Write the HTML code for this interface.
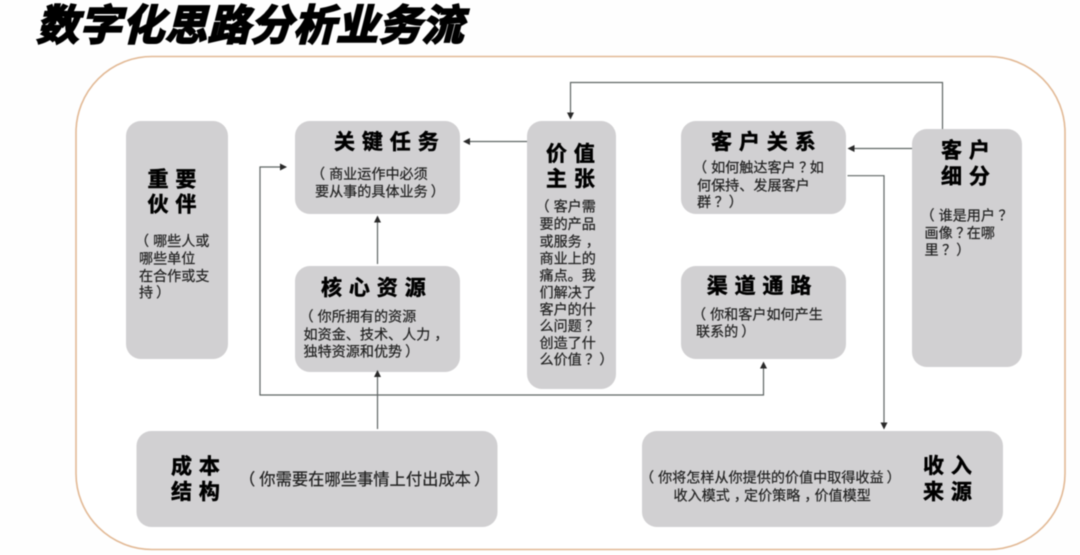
<!DOCTYPE html>
<html lang="zh">
<head>
<meta charset="utf-8">
<style>
html,body{margin:0;padding:0;background:#fff;width:1080px;height:555px;overflow:hidden}
svg{display:block;filter:blur(.4px)}
text{font-family:"Liberation Sans","Noto Sans CJK SC",sans-serif;dominant-baseline:central;white-space:pre}
.h{font-size:21px;font-weight:700;letter-spacing:6.9px;fill:#000;stroke:#000;stroke-width:.5px}
.s{font-size:14.1px;fill:#222;stroke:#222;stroke-width:.2px}
.b{fill:#d1d0d2}
.l{fill:none;stroke:#5f6664;stroke-width:1.2}
.a{fill:#2a2a2a}
</style>
</head>
<body>
<svg width="1080" height="555" viewBox="0 0 1080 555" xmlns="http://www.w3.org/2000/svg">
<rect width="1080" height="555" fill="#fefefe"/>
<text transform="translate(34,26) skewX(-14)" x="6" style="font-size:42px;font-weight:700;letter-spacing:.8px;fill:#000;stroke:#000;stroke-width:2px">数字化思路分析业务流</text>
<rect x="76" y="56.500" width="989" height="493" rx="76" ry="76" fill="#fff" stroke="#e2b995" stroke-width="1.6"/>

<rect class="b" x="126" y="121" width="102" height="238" rx="15"/>
<rect class="b" x="295" y="121" width="165" height="93" rx="15"/>
<rect class="b" x="295" y="266" width="165" height="106" rx="15"/>
<rect class="b" x="527" y="121" width="89" height="268" rx="15"/>
<rect class="b" x="681" y="121" width="165" height="93" rx="15"/>
<rect class="b" x="681" y="266" width="165" height="93" rx="15"/>
<rect class="b" x="912" y="129" width="110" height="238" rx="15"/>
<rect class="b" x="136.500" y="431" width="361" height="96" rx="15"/>
<rect class="b" x="642" y="431" width="361" height="96" rx="15"/>

<path class="l" d="M527 141.500H468"/><path class="a" d="M463 141.500l7-3.500v7z"/>
<path class="l" d="M377.500 264V221"/><path class="a" d="M377.500 215.500l-3.500 7h7z"/>
<path class="l" d="M377.500 429V376"/><path class="a" d="M377.500 370l-3.500 7h7z"/>
<path class="l" d="M286 167H260V395H763.500V367"/><path class="a" d="M287 167l-7-3.500v7z"/><path class="a" d="M763.500 361.500l-3.500 7h7z"/>
<path class="l" d="M942.500 129V82.500H570.500V114"/><path class="a" d="M570.500 119.500l-3.500-7h7z"/>
<path class="l" d="M912 148.500H853"/><path class="a" d="M847.500 148.500l7-3.500v7z"/>
<path class="l" d="M847.500 175.700H884V424"/><path class="a" d="M884 429.500l-3.500-7h7z"/>

<g transform="translate(0,1)">
<text class="h" x="334" y="141.700">关键任务</text>
<text class="s" x="315" y="173"><tspan dx="-4">（</tspan><tspan dx="4">商业运作中必须</tspan></text>
<text class="s" x="315" y="190.500">要从事的具体业务<tspan dx="3">）</tspan></text>

<text class="h" x="147.500" y="179">重要</text>
<text class="h" x="147.500" y="204">伙伴</text>
<text class="s" x="139" y="240"><tspan dx="-4">（</tspan><tspan dx="4">哪些人或</tspan></text>
<text class="s" x="139" y="257.500">哪些单位</text>
<text class="s" x="139" y="275">在合作或支</text>
<text class="s" x="139" y="291.500">持<tspan dx="3">）</tspan></text>

<text class="h" x="321" y="287.700">核心资源</text>
<text class="s" x="303.500" y="315.700"><tspan dx="-4">（</tspan><tspan dx="4">你所拥有的资源</tspan></text>
<text class="s" x="303.500" y="333.500">如资金、技术、人力<tspan dx="4">，</tspan></text>
<text class="s" x="303.500" y="350.500">独特资源和优势<tspan dx="3">）</tspan></text>

<text class="h" x="546" y="153.300">价值</text>
<text class="h" x="546" y="178.300">主张</text>
<text class="s" x="539.500" y="205.700"><tspan dx="-4">（</tspan><tspan dx="4">客户需</tspan></text>
<text class="s" x="539.500" y="223">要的产品</text>
<text class="s" x="539.500" y="240.300">或服务<tspan dx="4">，</tspan></text>
<text class="s" x="539.500" y="257.300">商业上的</text>
<text class="s" x="539.500" y="274.300">痛点。我</text>
<text class="s" x="539.500" y="291.300">们解决了</text>
<text class="s" x="539.500" y="308.300">客户的什</text>
<text class="s" x="539.500" y="325">么问题<tspan dx="3.500">？</tspan></text>
<text class="s" x="539.500" y="342">创造了什</text>
<text class="s" x="539.500" y="358.500">么价值<tspan dx="3.500">？</tspan><tspan dx="0">）</tspan></text>

<text class="h" x="711" y="141.700">客户关系</text>
<text class="s" x="697" y="166.700"><tspan dx="-4">（</tspan><tspan dx="4">如何触达客户</tspan><tspan dx="3.500">？</tspan><tspan dx="-3.500">如</tspan></text>
<text class="s" x="697" y="184.300">何保持、发展客户</text>
<text class="s" x="697" y="201">群<tspan dx="3.500">？</tspan><tspan dx="0">）</tspan></text>

<text class="h" x="706.700" y="285.700">渠道通路</text>
<text class="s" x="696" y="313.300"><tspan dx="-4">（</tspan><tspan dx="4">你和客户如何产生</tspan></text>
<text class="s" x="696" y="330.700">联系的<tspan dx="3">）</tspan></text>

<text class="h" x="941" y="150">客户</text>
<text class="h" x="941" y="176">细分</text>
<text class="s" x="924.500" y="214.300"><tspan dx="-4">（</tspan><tspan dx="4">谁是用户</tspan><tspan dx="3.500">？</tspan></text>
<text class="s" x="924.500" y="232">画像<tspan dx="3.500">？</tspan><tspan dx="-3.500">在哪</tspan></text>
<text class="s" x="924.500" y="249">里<tspan dx="3.500">？</tspan><tspan dx="0">）</tspan></text>

<text class="h" x="171" y="466">成本</text>
<text class="h" x="171" y="491.700">结构</text>
<text class="s" x="243" y="479" style="font-size:16.300px"><tspan dx="-4">（</tspan><tspan dx="4">你需要在哪些事情上付出成本</tspan><tspan dx="3">）</tspan></text>

<text class="h" x="923" y="465.700">收入</text>
<text class="h" x="923" y="491.700">来源</text>
<text class="s" x="644" y="476.700"><tspan dx="-4">（</tspan><tspan dx="4">你将怎样从你提供的价值中取得收益</tspan><tspan dx="3">）</tspan></text>
<text class="s" x="673.500" y="494.300">收入模式<tspan dx="4">，</tspan><tspan dx="-4">定价策略</tspan><tspan dx="4">，</tspan><tspan dx="-4">价值模型</tspan></text>
</g>
</svg>
</body>
</html>
